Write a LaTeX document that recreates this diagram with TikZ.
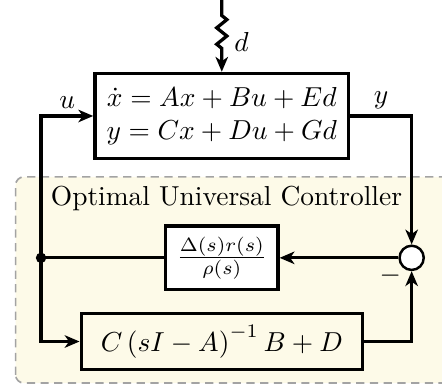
\documentclass[tikz,border=0pt]{standalone}
\usepackage{amsmath}
\usetikzlibrary{arrows.meta, positioning, backgrounds, decorations.pathmorphing}
\definecolor{cremaControl}{HTML}{FDFAE8}
\definecolor{grisBorde}{HTML}{A3A3A3}
\colorlet{colLinea}{black}
\tikzset{
  cajaBase/.style={
    draw=colLinea, line width=1.2pt, align=center, inner sep=4pt
  },
  cajaPlanta/.style={cajaBase, fill=white, minimum width=3.25cm, minimum height=1.09cm},
  cajaFiltro/.style={cajaBase, fill=white, minimum width=1.41cm, minimum height=0.79cm},
  cajaModelo/.style={cajaBase, minimum width=3.6cm, minimum height=0.72cm},
  nodoSuma/.style={circle, draw=colLinea, line width=0.9pt, fill=white,
    minimum size=0.31cm, inner sep=0pt},
  nodoPunto/.style={circle, fill=colLinea, minimum size=3.8pt, inner sep=0pt},
  flecha/.style={-{Stealth[length=1.9mm, width=1.6mm, inset=0.55mm]}, line width=1.2pt, colLinea},
  linea/.style={line width=1.2pt, colLinea},
  flechaRuido/.style={flecha, decorate, decoration={zigzag, segment length=2.1mm,
    amplitude=0.65mm, pre length=2.2mm, post length=3mm}},
  etiquetaSenal/.style={inner sep=2pt},
  fondoControl/.style={draw=grisBorde, dash pattern=on 3pt off 2pt, line width=0.6pt,
    fill=cremaControl, rounded corners=3pt},
}

\begin{document}
\begin{tikzpicture}
    \useasboundingbox (-2.84,-3.44) rectangle (2.82,1.485);
    \node[cajaPlanta] (planta) at (0,0) {$\dot{x} = Ax + Bu + Ed$\\$y = Cx + Du + Gd$};
    \node[cajaFiltro, below=0.82cm of planta] (filtro) {$\frac{\Delta(s)r(s)}{\rho(s)}$};
    \node[cajaModelo, below=0.26cm of filtro] (modelo) {$C\left(sI - A\right)^{-1}B + D$};
    \node[nodoSuma, right=1.52cm of filtro,
      label={[inner sep=0pt, label distance=0pt]-140:$-$}] (suma) {};
    \node[nodoPunto, left=1.5cm of filtro] (punto) {};
    \coordinate[above=0.94cm of planta.north] (ruido);
    \node (titulo) at (0.06,-1.06) {Optimal Universal Controller};

    % perturbacion
    \draw[flechaRuido] (ruido) -- node[right, pos=0.6, inner sep=4pt]{$d$} (planta.north);

    % lazo
    \draw[flecha] (planta) -| node[pos=0.25, above, etiquetaSenal]{$y$} (suma);
    \draw[flecha] (suma) -- (filtro);
    \draw[linea] (filtro) -- (punto.center);
    \draw[flecha] (punto.center) |- node[pos=0.75, above, etiquetaSenal]{$u$} (planta);
    \draw[flecha] (punto.center) |- (modelo);
    \draw[flecha] (modelo) -| (suma);

    \begin{scope}[on background layer]
      \draw[fondoControl] (-2.64,-3.42) rectangle (3.05,-0.78);
    \end{scope}
  \end{tikzpicture}
\end{document}
